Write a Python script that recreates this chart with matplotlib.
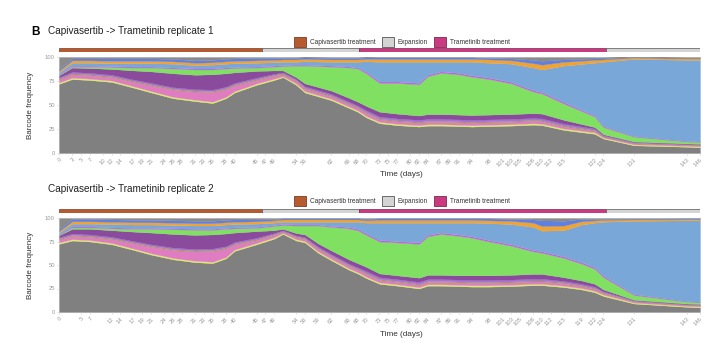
import matplotlib
matplotlib.use('Agg')
import matplotlib.pyplot as plt
from matplotlib.patches import Patch

plt.rcParams['font.family'] = ['Liberation Sans', 'DejaVu Sans']

# ----------------------------
# replicate 1 : clone frequencies (%) per sampling day, bottom -> top
days_1 = [0, 3, 7, 12, 17, 21, 26, 31, 35, 38, 40, 45, 49, 51, 54, 56, 62, 66, 68, 70,
          73, 77, 82, 84, 87, 91, 94, 98, 103, 108, 110, 115, 122, 124, 131, 143, 146]

gray_1    = [72, 77, 76, 74, 68, 63, 57, 54, 52, 57, 63, 71, 76, 79, 71, 63, 55, 47, 43, 37,
             31, 29, 27.5, 28.5, 28.5, 28, 27.5, 28, 28.5, 29.5, 29, 24, 20, 15, 8, 6.5, 6]
yellow_1  = [1.5, 1.5, 1.5, 1.5, 1.5, 1.5, 1.5, 1.5, 1.5, 1.5, 1.5, 1.5, 1.5, 1, 1.5, 1.5, 1.5, 1.5, 1.5, 1.5,
             1.5, 1.5, 1.5, 1.5, 1.5, 1.5, 1.5, 1.5, 1.5, 1.5, 1.5, 1.5, 1.5, 1, 1, 1, 1]
pink_1    = [3, 3.5, 3.5, 3.5, 4.5, 6, 7.5, 8.5, 10, 8, 6, 3.5, 3, 2, 2.5, 2.5, 2.5, 2.5, 2.5, 3,
             2.5, 2.5, 2.5, 2.5, 2.5, 2.5, 2.5, 2.5, 2.5, 2.5, 2.5, 2, 1.5, 1, 1, 1, 1]
olive_1   = [1, 1, 1, 1, 1, 1, 1, 1, 1, 1, 1, 1, 1, 1, 1, 1, 1, 1, 1, 1,
             1, 1, 1, 1, 1, 1, 1, 1, 1, 1, 1, 1, 1, 0.5, 0.5, 0.5, 0.5]
violet_1  = [1.5, 1.5, 1.5, 1.5, 1.5, 1.5, 1.5, 1.5, 1.5, 1.5, 1.5, 1.5, 1, 1, 1, 1.5, 1.5, 1.5, 1.5, 2,
             2, 2, 2, 2, 2, 2, 2, 2, 2, 2, 2, 2, 1.5, 1, 1, 0.5, 0.5]
purple_1  = [2, 4.5, 5, 6, 9.5, 12, 14.5, 15, 16, 14, 11, 7, 3.5, 2, 2, 3, 3.5, 4, 4, 4.5,
             5, 5, 4.5, 5, 5, 5, 5, 5, 5, 5, 5, 4, 1.5, 1, 0.5, 0.5, 0.5]
green_1   = [0.5, 1, 1.5, 2, 3, 4, 5, 5.5, 5, 5, 4.5, 3.5, 4, 4.5, 12, 18.5, 25, 31.5, 34.5, 34,
             30, 32, 32.5, 39.5, 43, 42, 40, 37, 32, 22.5, 21, 17, 11, 7.5, 5, 2, 2]
magenta_1 = [0.5, 1, 1, 1, 1, 1, 1, 1, 1, 1, 1, 1, 1, 1, 1, 1, 1, 1, 1, 1.5,
             1.5, 1.5, 1.5, 1.5, 1.5, 1.5, 1.5, 1.5, 1.5, 1.5, 1.5, 1.5, 1, 1, 0.5, 0.5, 0.5]
ltblue_1  = [2, 3, 3, 3, 3.5, 3.5, 4, 3.5, 4, 4, 4, 4, 3.5, 3.5, 3, 3.5, 4, 5, 6, 11,
             20.5, 20.5, 22, 13.5, 10, 11.5, 14, 15.5, 19, 23.5, 23.5, 38, 55, 67, 80.5, 84.5, 85]
orange_1  = [1.5, 2.5, 2.5, 2.5, 2.5, 2.5, 2.5, 2.5, 2.5, 2.5, 2.5, 2.5, 2.5, 2.5, 2.5, 2.5, 2.5, 2.5, 2.5, 2.5,
             3, 3, 3, 3, 3, 3, 3, 3.5, 3.5, 4.5, 5, 4, 3, 2.5, 1.5, 1.5, 1.5]
blue_1    = [1.5, 2, 2, 2.5, 2.5, 2.5, 2.5, 2.5, 2.5, 2.5, 2.5, 2.5, 2, 1.5, 1.5, 1.5, 1.5, 1.5, 1.5, 1.5,
             1.5, 1.5, 1.5, 1.5, 1.5, 1.5, 1.5, 1.5, 2, 3.5, 4, 2.5, 1.5, 1, 0.5, 0.5, 0.5]
other_1   = [13, 1.5, 1.5, 1.5, 1.5, 1.5, 2, 3.5, 3, 2, 1.5, 1, 1, 1, 1, 1, 1, 1, 1, 1,
             0.5, 0.5, 0.5, 0.5, 0.5, 0.5, 0.5, 1, 1.5, 3, 4, 2.5, 1.5, 1.5, 1, 1, 1]

ticks_1 = [0, 3, 5, 7, 10, 12, 14, 17, 19, 21, 24, 26, 28, 31, 33, 35, 38, 40, 45, 47, 49,
           54, 56, 62, 66, 68, 70, 73, 75, 77, 80, 82, 84, 87, 89, 91, 94, 98, 101, 103, 105,
           108, 110, 112, 115, 122, 124, 131, 143, 146]

# ----------------------------
# replicate 2
days_2 = [0, 3, 5, 7, 12, 17, 21, 26, 31, 35, 38, 40, 45, 49, 51, 54, 56, 59, 62, 66,
          68, 70, 73, 77, 82, 84, 87, 91, 94, 98, 103, 108, 110, 115, 119, 122, 124, 131, 143, 146]

gray_2    = [72.5, 76, 75.5, 75, 72, 66, 61, 56, 53, 52, 57, 65, 72, 78, 83, 76, 74, 63, 55, 45,
             41, 36, 30, 28, 25, 28, 28, 27.5, 27, 27, 27.5, 28.5, 28.5, 26.5, 24, 21, 17, 9, 5.5, 5]
yellow_2  = [1.5, 1.5, 1.5, 1.5, 1.5, 1.5, 1.5, 1.5, 1.5, 1.5, 1.5, 1.5, 1.5, 1.5, 1, 1.5, 1.5, 1.5, 1.5, 1.5,
             1.5, 1.5, 1.5, 1.5, 1.5, 1.5, 1.5, 1.5, 1.5, 1.5, 1.5, 1.5, 1.5, 1.5, 1.5, 1.5, 1.5, 1, 1, 1]
pink_2    = [3, 3.5, 3.5, 3.5, 4, 5.5, 7, 8.5, 10, 11.5, 9, 5.5, 3, 2.5, 1.5, 2, 2, 2.5, 2.5, 2.5,
             2.5, 3, 2.5, 2.5, 2.5, 2.5, 2.5, 2.5, 2.5, 2.5, 2.5, 2.5, 2.5, 2.5, 2, 2, 1.5, 1, 1, 1]
olive_2   = [1, 1, 1, 1, 1, 1, 1, 1, 1, 1, 1, 1, 1, 1, 0.5, 1, 1, 1, 1, 1,
             1, 1, 1, 1, 1, 1, 1, 1, 1, 1, 1, 1, 1, 1, 1, 1, 1, 0.5, 0.5, 0.5]
violet_2  = [1.5, 1.5, 1.5, 1.5, 1.5, 1.5, 1.5, 1.5, 1.5, 1.5, 1.5, 1.5, 1.5, 1, 1, 1, 1, 1.5, 1.5, 1.5,
             1.5, 2, 2, 2, 2, 2, 2, 2, 2, 2, 2, 2, 2, 1.5, 1.5, 1.5, 1, 1, 0.5, 0.5]
purple_2  = [2, 5, 5.5, 6, 7, 10, 12.5, 14.5, 15, 15, 13.5, 10, 7, 3, 1.5, 2.5, 3, 3.5, 4, 4.5,
             4.5, 4.5, 4, 4, 4.5, 4.5, 4.5, 4.5, 5, 5, 5, 5, 5, 4, 3.5, 3, 2, 0.5, 0.5, 0.5]
green_2   = [0.5, 1.5, 1.5, 1.5, 2, 3, 4, 5, 5.5, 5, 5, 4.5, 3.5, 4.5, 4, 8, 9.5, 19, 25, 33,
             35, 34, 34, 35, 36, 41, 43.5, 42, 40, 36, 31, 24, 22.5, 20.5, 18, 16, 13, 5, 2, 2]
magenta_2 = [0.5, 1, 1, 1, 1, 1, 1, 1, 1, 1, 1, 1, 1, 1, 1, 1, 1, 1, 1, 1.5,
             1.5, 1.5, 1.5, 1.5, 1.5, 1.5, 1.5, 1.5, 1.5, 1.5, 1.5, 1.5, 1.5, 1.5, 1.5, 1.5, 1.5, 1, 0.5, 0.5]
ltblue_2  = [2, 3, 3, 3, 3.5, 3.5, 3.5, 3.5, 3.5, 3.5, 3.5, 3.5, 3.5, 2.5, 2.5, 3, 3, 3, 4.5, 5.5,
             7.5, 11.5, 18.5, 19.5, 21, 13, 10.5, 12.5, 14.5, 18, 21.5, 24.5, 22, 28, 40, 47.5, 57.5, 78, 86, 86.5]
orange_2  = [1.5, 2.5, 2.5, 2.5, 2.5, 2.5, 2.5, 2.5, 2.5, 2.5, 2.5, 2.5, 2.5, 2.5, 2.5, 2.5, 2.5, 2.5, 2.5, 2.5,
             2.5, 2.5, 3, 3, 3, 3, 3, 3, 3, 3, 3.5, 4.5, 5, 5, 3.5, 2.5, 2, 1.5, 1.5, 1.5]
blue_2    = [1.5, 2.5, 2.5, 2.5, 2.5, 2.5, 2.5, 2.5, 2.5, 2.5, 2.5, 2.5, 2, 1.5, 1, 1, 1, 1, 1, 1,
             1, 1.5, 1.5, 1.5, 1.5, 1.5, 1.5, 1.5, 1.5, 2, 2, 3.5, 6, 5, 2.5, 1.5, 1, 0.5, 0.5, 0.5]
other_2   = [12.5, 1, 1, 1, 1.5, 2, 2, 2.5, 3, 3, 2, 1.5, 1.5, 1, 0.5, 0.5, 0.5, 0.5, 0.5, 0.5,
             0.5, 1, 0.5, 0.5, 0.5, 0.5, 0.5, 0.5, 0.5, 0.5, 1, 1.5, 2.5, 3, 1, 1, 1, 1, 0.5, 0.5]

ticks_2 = [0, 5, 7, 12, 14, 17, 19, 21, 24, 26, 28, 31, 33, 35, 38, 40, 45, 47, 49, 54, 56,
           59, 62, 66, 68, 70, 73, 75, 77, 80, 82, 84, 87, 89, 91, 94, 98, 101, 103, 105, 108,
           110, 112, 115, 119, 122, 124, 131, 143, 146]

clone_colors = ['#808080', '#d9ea6c', '#e07cc2', '#a39a4c', '#a873d6', '#8b4b9d',
                '#80e062', '#c75ee0', '#79a8d8', '#f0a332', '#5e80e2', '#8a8a8a']

# treatment schedule (days)
phase_names = ['Capivasertib treatment', 'Expansion', 'Trametinib treatment', 'Expansion']
phase_start = [0, 46.5, 68.5, 125]
phase_end   = [46.5, 68.5, 125, 146.5]
phase_face  = {'Capivasertib treatment': '#b65a30',
               'Expansion'             : '#d4d4d4',
               'Trametinib treatment'  : '#c93a80'}
phase_edge  = {'Capivasertib treatment': '#7a3d26',
               'Expansion'             : '#555555',
               'Trametinib treatment'  : '#7a2a50'}

W, H = 720, 343
fig = plt.figure(figsize=(W / 100, H / 100), dpi=100)


def _box(left, top, right, bottom):
    return [left / W, 1 - bottom / H, (right - left) / W, (bottom - top) / H]
# ----------------------------
def _draw_panel(title, days, layers, ticks, top, bottom, bar_y, leg_y, title_y, xlab_y):
    ax = fig.add_axes(_box(59, top, 700, bottom))
    ax.stackplot(days, *layers, colors=clone_colors, linewidth=0.2, edgecolor='face')
    ax.set_xlim(0, 146)
    ax.set_ylim(0, 100)
    ax.set_yticks([0, 25, 50, 75, 100])
    ax.set_yticklabels(['0', '25', '50', '75', '100'])
    ax.set_xticks(ticks)
    ax.set_xticklabels([str(t) for t in ticks], rotation=45, ha='right', rotation_mode='anchor')
    ax.tick_params(axis='both', labelsize=4.2, labelcolor='#9a9a9a', color='#c8c8c8',
                   length=1.5, width=0.4, pad=1.5)
    for sp in ax.spines.values():
        sp.set_visible(False)

    bar = fig.add_axes(_box(59, bar_y - 1.6, 700, bar_y + 1.6))
    for name, s, e in zip(phase_names, phase_start, phase_end):
        bar.barh(0, e - s, left=s, height=1, color=phase_face[name],
                 edgecolor=phase_edge[name], linewidth=0.5)
    bar.set_xlim(0, 146.5)
    bar.set_ylim(-0.5, 0.5)
    bar.axis('off')

    handles = [Patch(facecolor=phase_face[n], edgecolor=phase_edge[n], linewidth=0.6, label=n)
               for n in ['Capivasertib treatment', 'Expansion', 'Trametinib treatment']]
    fig.legend(handles=handles, loc='center', bbox_to_anchor=(402 / W, 1 - leg_y / H), ncol=3,
               frameon=False, fontsize=4.7, handlelength=1.8, handleheight=1.8,
               columnspacing=1.0, handletextpad=0.6, labelcolor='#333333')

    fig.text(48 / W, 1 - title_y / H, title, fontsize=7.2, va='center', ha='left', color='#222222')
    fig.text(30 / W, 1 - (top + bottom) / 2 / H, 'Barcode frequency', rotation=90,
             fontsize=5.8, va='center', ha='center', color='#333333')
    fig.text(401 / W, 1 - xlab_y / H, 'Time (days)', fontsize=5.9, va='center', ha='center',
             color='#333333')
    return ax


layers_1 = [gray_1, yellow_1, pink_1, olive_1, violet_1, purple_1, green_1, magenta_1,
            ltblue_1, orange_1, blue_1, other_1]
layers_2 = [gray_2, yellow_2, pink_2, olive_2, violet_2, purple_2, green_2, magenta_2,
            ltblue_2, orange_2, blue_2, other_2]

_draw_panel('Capivasertib -> Trametinib replicate 1', days_1, layers_1, ticks_1,
            top=57, bottom=153, bar_y=50, leg_y=42, title_y=31, xlab_y=175)
_draw_panel('Capivasertib -> Trametinib replicate 2', days_2, layers_2, ticks_2,
            top=218, bottom=312, bar_y=211, leg_y=201, title_y=189, xlab_y=335)

fig.text(31 / W, 1 - 32 / H, 'B', fontsize=8.5, fontweight='bold', va='center', ha='left')

fig.savefig('out.png', dpi=100)
